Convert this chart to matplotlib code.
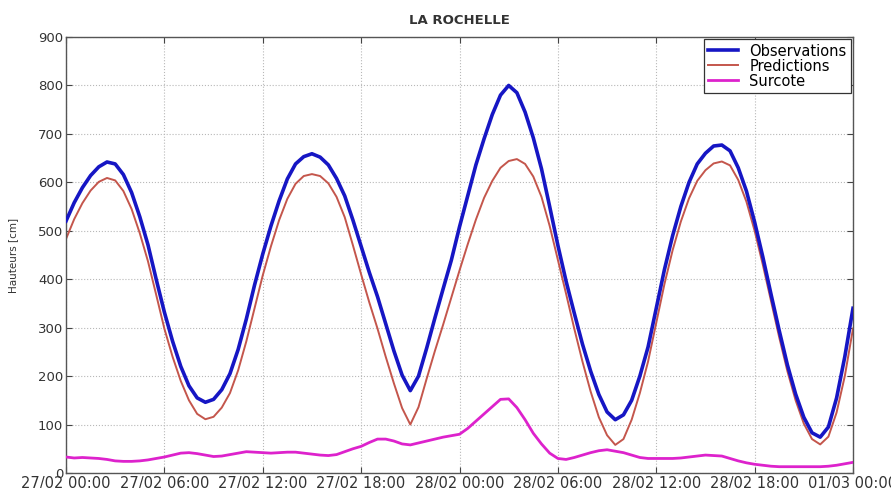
import matplotlib
matplotlib.use("Agg")
import numpy as np
from matplotlib import pyplot as plt

# sampling every half hour from 27/02 00:00 to 01/03 00:00
hours = np.arange(0, 48.5, 0.5)

# observed water level (cm)
observations = [520, 558, 589, 614, 632, 642, 638, 616, 579, 529, 471, 400, 332, 272,
                220, 180, 155, 146, 152, 172, 205, 255, 318, 388, 452, 510, 562, 607,
                638, 653, 659, 652, 636, 608, 572, 522, 468, 414, 364, 308, 252, 202,
                170, 200, 258, 320, 380, 439, 508, 572, 636, 690, 740, 780, 800, 785,
                745, 692, 628, 550, 470, 396, 330, 266, 210, 162, 126, 110, 120, 150,
                200, 260, 340, 420, 490, 550, 600, 638, 660, 675, 677, 665, 630, 582,
                518, 446, 369, 294, 223, 163, 115, 83, 74, 95, 155, 240, 340]

# predicted tide (cm)
predictions = [483, 524, 557, 583, 601, 609, 604, 582, 545, 495, 437, 368, 298, 240,
               190, 150, 122, 111, 116, 135, 165, 212, 272, 340, 408, 468, 522, 566,
               597, 613, 617, 613, 598, 570, 528, 470, 410, 352, 298, 240, 185, 134,
               100, 136, 195, 252, 306, 362, 418, 472, 523, 568, 603, 630, 644, 648,
               638, 612, 570, 510, 440, 370, 298, 230, 168, 115, 78, 58, 70, 110,
               165, 230, 310, 390, 460, 519, 567, 603, 625, 639, 643, 635, 605, 560,
               500, 430, 355, 280, 210, 150, 102, 70, 59, 75, 125, 200, 298]

# surge (cm)
surcote = [33, 31, 32, 31, 30, 28, 25, 24, 24, 25, 27, 30, 33, 37, 41, 42, 40, 37, 34,
           35, 38, 41, 44, 43, 42, 41, 42, 43, 43, 41, 39, 37, 36, 38, 44, 50, 55, 63,
           70, 70, 66, 60, 58, 62, 66, 70, 74, 77, 80, 92, 107, 122, 137, 152, 153,
           135, 110, 82, 60, 41, 30, 28, 32, 37, 42, 46, 48, 45, 42, 37, 32, 30, 30,
           30, 30, 31, 33, 35, 37, 36, 35, 30, 25, 21, 18, 16, 14, 13, 13, 13, 13, 13,
           13, 14, 16, 19, 22]

tick_hours = [0, 6, 12, 18, 24, 30, 36, 42, 48]
tick_labels = ["27/02 00:00", "27/02 06:00", "27/02 12:00", "27/02 18:00",
               "28/02 00:00", "28/02 06:00", "28/02 12:00", "28/02 18:00",
               "01/03 00:00"]

fig = plt.figure(figsize=(8.91, 4.88), dpi=100)
ax = fig.add_axes([66/891, 15/488, 787/891, 436/488])

p_line, = ax.plot(hours, predictions, color="#c4564c", lw=1.4, zorder=2)
o_line, = ax.plot(hours, observations, color="#1616c4", lw=2.6, zorder=3)
s_line, = ax.plot(hours, surcote, color="#dd22cc", lw=2.0, zorder=3)

ax.set_xlim(0, 48)
ax.set_ylim(0, 900)
ax.set_xticks(tick_hours)
ax.set_xticklabels(tick_labels, fontsize=10.5, color="#333333")
ax.set_yticks(range(0, 1000, 100))
ax.tick_params(axis="y", labelsize=9.5, labelcolor="#333333")
ax.tick_params(direction="in", top=True, right=True, length=4, width=0.8,
               color="#444444", pad=2)
ax.grid(True, linestyle=":", color="#b8b8b8", linewidth=0.8)
for sp in ax.spines.values():
    sp.set_color("#555555")
    sp.set_linewidth(1.0)

ax.set_title("LA ROCHELLE", fontsize=9.5, fontweight="bold", color="#333333", pad=9)
ax.set_ylabel("Hauteurs [cm]", fontsize=7.5, color="#333333", labelpad=14)

leg = ax.legend([o_line, p_line, s_line], ["Observations", "Predictions", "Surcote"],
                loc="upper right", fontsize=10.5, fancybox=False, framealpha=1,
                edgecolor="#333333", borderaxespad=0.15, labelspacing=0.0,
                handlelength=2.0, handletextpad=0.8, borderpad=0.3)
leg.get_frame().set_linewidth(0.9)

plt.savefig("out.png", dpi=100)
